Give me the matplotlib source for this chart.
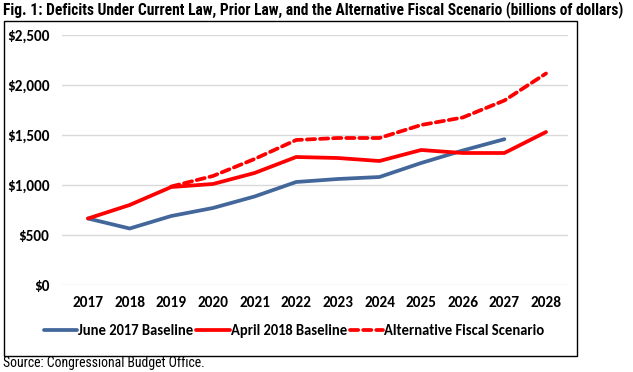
import matplotlib
matplotlib.use("Agg")
import matplotlib.pyplot as plt
from matplotlib.patches import Rectangle
from matplotlib import font_manager

years = [2017, 2018, 2019, 2020, 2021, 2022, 2023, 2024, 2025, 2026, 2027, 2028]
june2017 = [665, 565, 690, 770, 885, 1030, 1060, 1080, 1220, 1345, 1458]
april2018 = [665, 800, 980, 1010, 1120, 1280, 1270, 1240, 1350, 1320, 1320, 1530]
alt_years = [2019, 2020, 2021, 2022, 2023, 2024, 2025, 2026, 2027, 2028]
alt = [985, 1090, 1260, 1450, 1470, 1470, 1600, 1675, 1845, 2115]
yticks = [0, 500, 1000, 1500, 2000, 2500]
ytick_labels = ["$0", "$500", "$1,000", "$1,500", "$2,000", "$2,500"]
title = "Fig. 1: Deficits Under Current Law, Prior Law, and the Alternative Fiscal Scenario (billions of dollars)"
source = "Source: Congressional Budget Office."

fonts = font_manager.fontManager.ttflist
names = {f.name for f in fonts}
narrow = None
for cand in ["Liberation Sans Narrow", "Arial Narrow", "DejaVu Sans Condensed", "Roboto Condensed"]:
    if cand in names:
        narrow = cand
        break
stretch = "normal"
if narrow is None:
    if any(f.name == "DejaVu Sans" and f.stretch in ("condensed", "semi-condensed", 600, 700) for f in fonts):
        narrow = "DejaVu Sans"
        stretch = "condensed"
    else:
        narrow = "Liberation Sans"
tickfont = "DejaVu Sans"
for cand in ["Carlito", "Calibri", "Lato"]:
    if cand in names:
        tickfont = cand
        break

W, H = 633, 372
fig = plt.figure(figsize=(W / 100, H / 100), dpi=100)

# outer frame
fig.patches.append(Rectangle((4 / W, 1 - 356 / H), 573 / W, 335 / H, transform=fig.transFigure,
                             fill=False, edgecolor="black", linewidth=1.0))

ax = fig.add_axes([62 / W, 1 - 285 / H, 506 / W, 250 / H])
ax.set_ylim(0, 2500)
ax.set_xlim(2017 - 26 / 41.64, 2028 + 22 / 41.64)

blue = "#44679B"
red = "#FF0000"
lw = 2.7
ax.plot(years[:len(june2017)], june2017, color=blue, lw=lw, solid_capstyle="round", label="June 2017 Baseline", zorder=3)
ax.plot(years, april2018, color=red, lw=lw, solid_capstyle="round", label="April 2018 Baseline", zorder=4)
ax.plot(alt_years, alt, color=red, lw=lw, ls=(0, (2.2, 1.3)), dash_capstyle="round",
        label="Alternative Fiscal Scenario", zorder=4)

ax.set_yticks(yticks)
ax.set_yticklabels(ytick_labels)
ax.set_xticks(years)
ax.set_xticklabels([str(y) for y in years])
ax.grid(axis="y", color="#D9D9D9", lw=1.0)
ax.set_axisbelow(True)
for s in ax.spines.values():
    s.set_visible(False)
ax.tick_params(length=0)
fs = 11
for lab in ax.get_xticklabels() + ax.get_yticklabels():
    lab.set_fontfamily(tickfont)
    lab.set_fontweight("bold")
    lab.set_fontsize(fs)
ax.tick_params(axis="x", pad=8)
ax.tick_params(axis="y", pad=9)

leg = fig.legend(loc="center", bbox_to_anchor=(294 / W, 1 - 331 / H), ncol=3, frameon=False,
                 prop={"family": tickfont, "weight": "bold", "size": 10.5},
                 handlelength=2.3, handletextpad=0.05, columnspacing=0.2)

t_title = fig.text(3 / W, 1 - 10 / H, title, family=narrow, stretch=stretch, weight="bold",
                   fontsize=10.5, va="center", ha="left")
t_src = fig.text(3 / W, 1 - 363 / H, source, family=narrow, stretch=stretch, fontsize=8.5,
                 va="center", ha="left")

# fit text widths to the reference
renderer = fig.canvas.get_renderer()
for t, target in [(t_title, 625), (t_src, 202)]:
    for _ in range(3):
        w = t.get_window_extent(renderer).width
        t.set_fontsize(t.get_fontsize() * target / w)

fig.savefig("out.png", dpi=100)
